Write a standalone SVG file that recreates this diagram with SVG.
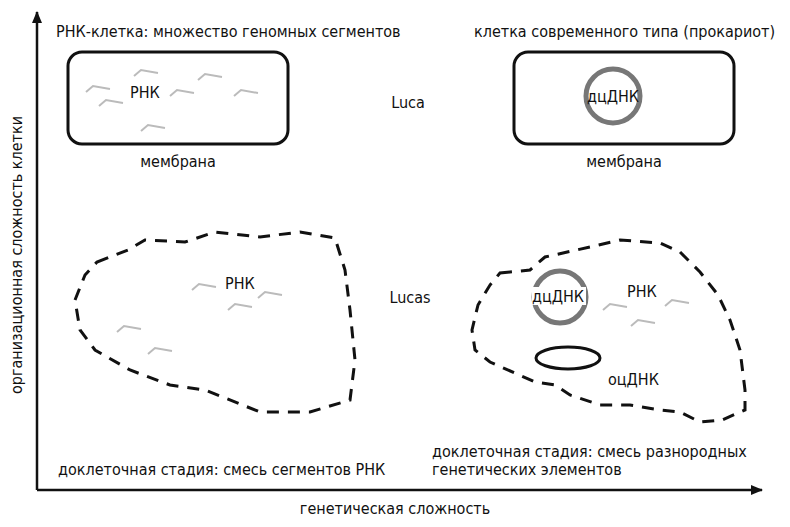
<svg xmlns="http://www.w3.org/2000/svg" width="790" height="527" viewBox="0 0 790 527">
<defs>
<style>
text{font-family:"Liberation Sans Narrow","DejaVu Sans Condensed",sans-serif;font-size:16px;fill:#111}
.sq{fill:none;stroke:#bbb;stroke-width:2}
.blob{fill:none;stroke:#111;stroke-width:3;stroke-dasharray:12 9}
</style>
<path id="s" d="M0,8 L7,2 L24,5" class="sq"/>
<marker id="ah" markerWidth="12" markerHeight="10" refX="11" refY="5" orient="auto" markerUnits="userSpaceOnUse"><path d="M0,0 L12,5 L0,10 Z" fill="#111"/></marker>
</defs>
<rect width="790" height="527" fill="#fff"/>
<g id="axes" fill="none" stroke="#111" stroke-width="2.5">
<line x1="37" y1="490" x2="37" y2="12" marker-end="url(#ah)"/>
<line x1="37" y1="490" x2="762" y2="490" marker-end="url(#ah)"/>
</g>
<text x="0" y="0" transform="translate(22,255) rotate(-90)" text-anchor="middle">организационная сложность клетки</text>
<text x="395" y="514" text-anchor="middle">генетическая сложность</text>
<g id="rna-cell">
<text x="56" y="37">РНК-клетка: множество геномных сегментов</text>
<rect x="68" y="52" width="220" height="92" rx="14" fill="none" stroke="#111" stroke-width="3"/>
<text x="130" y="98">РНК</text>
<use href="#s" x="134" y="68"/><use href="#s" x="86" y="84"/><use href="#s" x="99" y="98"/>
<use href="#s" x="170" y="88"/><use href="#s" x="198" y="72"/><use href="#s" x="234" y="88"/>
<use href="#s" x="141" y="123"/>
<text x="178" y="167" text-anchor="middle">мембрана</text>
</g>
<g id="modern-cell">
<text x="474" y="37">клетка современного типа (прокариот)</text>
<rect x="514" y="52" width="220" height="92" rx="14" fill="none" stroke="#111" stroke-width="3"/>
<circle cx="613" cy="96" r="27" fill="none" stroke="#777" stroke-width="5"/>
<text x="613" y="102" text-anchor="middle">дцДНК</text>
<text x="624" y="167" text-anchor="middle">мембрана</text>
</g>
<text x="408" y="108" text-anchor="middle">Luca</text>
<text x="410" y="303" text-anchor="middle">Lucas</text>
<g id="precell-rna">
<path class="blob" d="M97,262 L128,250 L145,240 L185,242 L215,232 L260,237 L300,232 L335,238 L345,270 L350,310 L355,360 L350,400 L310,412 L260,412 L205,390 L170,385 L130,370 L95,350 L80,330 L75,300 L85,275 Z"/>
<text x="225" y="289">РНК</text>
<use href="#s" x="192" y="282"/><use href="#s" x="258" y="290"/><use href="#s" x="228" y="302"/>
<use href="#s" x="117" y="324"/><use href="#s" x="148" y="346"/>
<text x="58" y="475">доклеточная стадия: смесь сегментов РНК</text>
</g>
<g id="precell-mixed">
<path class="blob" d="M500,273 L530,270 L545,257 L590,247 L620,240 L660,243 L680,252 L700,272 L718,295 L730,320 L740,350 L745,390 L745,410 L722,420 L700,422 L680,412 L660,410 L630,405 L600,405 L570,395 L555,385 L535,382 L490,362 L475,350 L472,330 L478,305 L490,285 Z"/>
<circle cx="560" cy="297" r="26" fill="none" stroke="#777" stroke-width="5"/>
<rect x="532" y="287" width="54" height="18" fill="#fff"/>
<text x="558" y="302" text-anchor="middle">дцДНК</text>
<text x="627" y="297">РНК</text>
<use href="#s" x="603" y="302"/><use href="#s" x="665" y="298"/><use href="#s" x="631" y="318"/>
<ellipse cx="568" cy="358" rx="32" ry="11" fill="none" stroke="#111" stroke-width="3"/>
<text x="608" y="385">оцДНК</text>
<text x="432" y="457">доклеточная стадия: смесь разнородных</text>
<text x="432" y="475">генетических элементов</text>
</g>
</svg>
